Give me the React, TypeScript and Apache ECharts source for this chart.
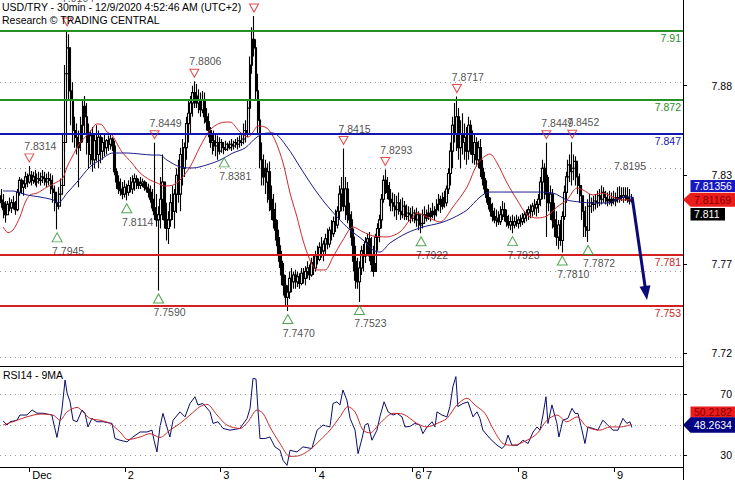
import React, { useEffect, useRef } from "react";
import * as echarts from "echarts";

const FONT = "'Liberation Sans', Arial, Helvetica, sans-serif";

// ---- 30-min bars (index 0 = Nov 30 16:30) : highs / lows / closes ----
const highs = [
  // Nov 30
  7.8168,7.8180,7.8150,7.8110,7.8110,7.8130,7.8120,7.8140,7.8110,7.8180,7.8250,7.8240,7.8230,7.8280,7.8270,
  // Dec 1
  7.8314,7.8285,7.8280,7.8290,7.8270,7.8280,7.8275,7.8290,7.8280,7.8270,7.8280,7.8270,7.8260,7.8200,7.8160,7.8190,
  7.8240,7.8500,7.8900,7.9104,7.9080,7.8820,7.8800,7.8600,7.8560,7.8520,7.8600,7.8700,7.8720,7.8680,7.8560,7.8520,
  7.8540,7.8500,7.8550,7.8520,7.8500,7.8480,7.8500,7.8470,7.8490,7.8500,7.8480,7.8460,7.8300,7.8260,7.8240,7.8220,
  // Dec 2
  7.8230,7.8210,7.8230,7.8250,7.8260,7.8270,7.8260,7.8240,7.8250,7.8240,7.8230,7.8220,7.8210,7.8200,7.8180,7.8449,
  7.8150,7.8080,7.8250,7.8380,7.8180,7.8100,7.8050,7.8150,7.8200,7.8180,7.8300,7.8350,7.8420,7.8470,7.8450,7.8600,
  7.8700,7.8720,7.8780,7.8806,7.8790,7.8760,7.8740,7.8750,7.8740,7.8650,7.8620,7.8540,7.8500,7.8520,7.8500,7.8490,
  // Dec 3
  7.8480,7.8470,7.8450,7.8460,7.8450,7.8460,7.8470,7.8460,7.8470,7.8480,7.8490,7.8500,7.8560,7.8580,7.8700,7.8950,
  7.9120,7.9185,7.9050,7.8850,7.8700,7.8450,7.8380,7.8350,7.8330,7.8340,7.8200,7.8150,7.8100,7.8000,7.7900,7.7820,
  7.7750,7.7680,7.7620,7.7700,7.7720,7.7700,7.7710,7.7700,7.7690,7.7720,7.7720,7.7730,7.7760,7.7740,7.7780,7.7800,
  // Dec 4
  7.7820,7.7850,7.7870,7.7900,7.7880,7.7920,7.7950,7.7960,7.8000,7.8020,7.8060,7.8080,7.8200,7.8250,7.8415,7.8250,
  7.8220,7.8100,7.8050,7.7950,7.7850,7.7780,7.7760,7.7850,7.7860,7.7900,7.7920,7.7930,7.7900,7.7850,7.7920,7.7980,
  7.8030,7.8150,7.8260,7.8293,7.8250,7.8220,7.8180,7.8160,7.8150,7.8140,7.8160,7.8120,7.8130,7.8110,7.8090,7.8080,
  // Dec 6
  7.8070,7.8080,7.8060,7.8070,7.8050,7.8030,
  // Dec 7
  7.8060,7.8080,7.8060,7.8090,7.8070,7.8100,7.8080,7.8120,7.8150,7.8140,7.8160,7.8170,7.8200,7.8300,7.8450,7.8600,
  7.8680,7.8717,7.8650,7.8580,7.8620,7.8560,7.8540,7.8600,7.8580,7.8520,7.8500,7.8480,7.8460,7.8470,7.8350,7.8280,
  7.8230,7.8180,7.8130,7.8100,7.8070,7.8060,7.8050,7.8080,7.8110,7.8100,7.8060,7.8030,7.8020,7.8030,7.8020,7.8030,
  // Dec 8
  7.8020,7.8030,7.8040,7.8050,7.8060,7.8080,7.8090,7.8100,7.8120,7.8110,7.8150,7.8250,7.8350,7.8330,7.8449,7.8250,
  7.8200,7.8180,7.8100,7.8050,7.8000,7.8000,7.8050,7.8200,7.8280,7.8350,7.8380,7.8452,7.8380,7.8370,7.8320,7.8270,
  7.8200,7.8120,7.8080,7.8120,7.8150,7.8130,7.8140,7.8150,7.8170,7.8180,7.8200,7.8190,7.8170,7.8160,7.8170,7.8160,
  // Dec 9
  7.8170,7.8160,7.8190,7.8195,7.8190,7.8190,7.8190,7.8190,7.8180,7.8150,
];

const lows = [
  // Nov 30
  7.8093,7.8070,7.8010,7.7985,7.8030,7.8050,7.8040,7.8060,7.8030,7.8050,7.8140,7.8150,7.8140,7.8180,7.8190,
  // Dec 1
  7.8210,7.8200,7.8210,7.8200,7.8190,7.8210,7.8200,7.8215,7.8200,7.8190,7.8200,7.8150,7.8100,7.8050,7.7945,7.8060,
  7.8100,7.8150,7.8400,7.8800,7.8700,7.8550,7.8450,7.8420,7.8380,7.8190,7.8400,7.8450,7.8500,7.8380,7.8300,7.8320,
  7.8280,7.8300,7.8340,7.8300,7.8330,7.8350,7.8370,7.8380,7.8400,7.8410,7.8400,7.8260,7.8180,7.8150,7.8140,7.8120,
  // Dec 2
  7.8130,7.8114,7.8140,7.8160,7.8150,7.8170,7.8180,7.8180,7.8180,7.8190,7.8170,7.8160,7.8130,7.8100,7.8050,7.8000,
  7.7960,7.7590,7.7950,7.8000,7.7950,7.7880,7.7860,7.7960,7.8000,7.7950,7.8040,7.8100,7.8050,7.8200,7.8250,7.8350,
  7.8450,7.8500,7.8600,7.8650,7.8650,7.8620,7.8600,7.8620,7.8560,7.8520,7.8480,7.8420,7.8380,7.8400,7.8370,7.8350,
  // Dec 3
  7.8380,7.8390,7.8381,7.8400,7.8400,7.8410,7.8400,7.8410,7.8420,7.8410,7.8420,7.8430,7.8440,7.8450,7.8480,7.8600,
  7.8850,7.8950,7.8700,7.8500,7.8300,7.8200,7.8200,7.8150,7.8100,7.8050,7.8000,7.7950,7.7880,7.7800,7.7720,7.7620,
  7.7560,7.7500,7.7470,7.7540,7.7580,7.7600,7.7600,7.7610,7.7600,7.7620,7.7630,7.7620,7.7660,7.7650,7.7670,7.7680,
  // Dec 4
  7.7700,7.7740,7.7760,7.7780,7.7760,7.7800,7.7830,7.7840,7.7880,7.7900,7.7930,7.7950,7.8000,7.8050,7.8050,7.8000,
  7.7980,7.7950,7.7850,7.7700,7.7600,7.7600,7.7523,7.7680,7.7700,7.7750,7.7800,7.7760,7.7700,7.7670,7.7750,7.7820,
  7.7870,7.7950,7.8100,7.8150,7.8120,7.8080,7.8050,7.8050,7.8020,7.8000,7.8030,7.8000,7.8010,7.8000,7.8000,7.7990,
  // Dec 6
  7.7980,7.7990,7.7980,7.7960,7.7940,7.7922,
  // Dec 7
  7.7950,7.7980,7.7990,7.8000,7.7990,7.8010,7.8000,7.8020,7.8050,7.8040,7.8060,7.8070,7.8080,7.8150,7.8200,7.8300,
  7.8450,7.8400,7.8350,7.8300,7.8380,7.8350,7.8320,7.8350,7.8380,7.8330,7.8320,7.8310,7.8300,7.8250,7.8200,7.8150,
  7.8100,7.8060,7.8020,7.7990,7.7980,7.7960,7.7970,7.7970,7.8000,7.7990,7.7960,7.7950,7.7940,7.7923,7.7950,7.7960,
  // Dec 8
  7.7950,7.7960,7.7970,7.7980,7.7990,7.8000,7.8010,7.8020,7.8030,7.8020,7.8040,7.8080,7.8120,7.8120,7.7900,7.8050,
  7.8000,7.7950,7.7900,7.7850,7.7830,7.7850,7.7810,7.8000,7.8100,7.8200,7.8220,7.8200,7.8230,7.8200,7.8150,7.8100,
  7.8000,7.7900,7.7900,7.7872,7.8050,7.8040,7.8050,7.8060,7.8070,7.8080,7.8090,7.8100,7.8090,7.8080,7.8090,7.8080,
  // Dec 9
  7.8090,7.8080,7.8100,7.8100,7.8110,7.8100,7.8110,7.8100,7.8090,7.8100,
];

const closes = [
  // Nov 30
  7.8116,7.810,7.806,7.803,7.809,7.807,7.810,7.808,7.806,7.816,7.823,7.819,7.821,7.825,7.822,
  // Dec 1
  7.826,7.823,7.825,7.822,7.824,7.823,7.825,7.824,7.822,7.824,7.823,7.818,7.816,7.810,7.808,7.815,
  7.820,7.845,7.885,7.900,7.875,7.870,7.852,7.848,7.842,7.845,7.855,7.866,7.860,7.845,7.838,7.849,
  7.835,7.846,7.838,7.848,7.840,7.845,7.842,7.846,7.844,7.847,7.843,7.828,7.822,7.818,7.817,7.815,
  // Dec 2
  7.819,7.816,7.820,7.818,7.822,7.824,7.822,7.820,7.821,7.822,7.819,7.818,7.816,7.812,7.807,7.803,
  7.800,7.803,7.812,7.822,7.800,7.795,7.800,7.810,7.805,7.815,7.826,7.815,7.838,7.830,7.842,7.856,
  7.862,7.868,7.874,7.872,7.868,7.870,7.864,7.870,7.860,7.857,7.852,7.845,7.846,7.843,7.845,7.840,
  // Dec 3
  7.845,7.842,7.841,7.844,7.842,7.844,7.843,7.845,7.844,7.846,7.845,7.847,7.852,7.850,7.865,7.890,
  7.905,7.900,7.875,7.858,7.835,7.825,7.830,7.822,7.828,7.812,7.806,7.800,7.794,7.785,7.776,7.768,
  7.762,7.755,7.758,7.766,7.764,7.768,7.764,7.767,7.763,7.769,7.766,7.770,7.772,7.768,7.775,7.772,
  // Dec 4
  7.779,7.777,7.784,7.782,7.786,7.789,7.786,7.794,7.792,7.799,7.797,7.805,7.815,7.818,7.808,7.818,
  7.803,7.800,7.790,7.776,7.765,7.764,7.772,7.782,7.779,7.787,7.789,7.779,7.774,7.770,7.790,7.795,
  7.800,7.812,7.823,7.820,7.816,7.812,7.810,7.808,7.806,7.810,7.805,7.803,7.808,7.802,7.804,7.803,
  // Dec 6
  7.801,7.804,7.800,7.803,7.797,7.798,
  // Dec 7
  7.803,7.801,7.804,7.802,7.805,7.803,7.806,7.809,7.812,7.808,7.813,7.810,7.818,7.827,7.840,7.855,
  7.850,7.860,7.842,7.850,7.845,7.848,7.840,7.855,7.845,7.838,7.845,7.835,7.842,7.830,7.824,7.818,
  7.813,7.809,7.805,7.802,7.800,7.801,7.799,7.803,7.806,7.802,7.799,7.797,7.799,7.797,7.799,7.798,
  // Dec 8
  7.800,7.799,7.801,7.803,7.804,7.806,7.805,7.808,7.807,7.809,7.812,7.822,7.830,7.826,7.815,7.810,
  7.815,7.800,7.796,7.790,7.797,7.788,7.802,7.816,7.825,7.832,7.828,7.830,7.834,7.825,7.820,7.814,
  7.805,7.796,7.794,7.808,7.810,7.809,7.811,7.810,7.814,7.812,7.816,7.813,7.811,7.812,7.810,7.812,
  // Dec 9
  7.811,7.813,7.812,7.814,7.813,7.814,7.813,7.812,7.811,7.811,
];
const firstOpen = 7.814;

// ---- moving averages: [bar index, price] ----
const fastMA = [
  [1.8,7.7959],[4.3,7.7926],[6.8,7.7941],[10.3,7.8017],[12.8,7.8098],[15.4,7.8145],[18.9,7.8156],[23.9,7.8191],
  [28.9,7.8220],[31.9,7.8244],[34.0,7.8308],[36.5,7.8366],[40.5,7.8447],[45.5,7.8511],[49.0,7.8558],[51.6,7.8552],
  [54.1,7.8511],[56.6,7.8494],[58.1,7.8465],[61.6,7.8395],[66.6,7.8331],[70.7,7.8273],[75.7,7.8232],[79.2,7.8215],
  [83.2,7.8197],[87.3,7.8203],[90.8,7.8232],[95.8,7.8308],[100.8,7.8424],[105.9,7.8523],[110.9,7.8563],[115.9,7.8569],
  [120.9,7.8511],[125.0,7.8482],[127.5,7.8511],[130.0,7.8546],[134.5,7.8534],[138.5,7.8465],[142.6,7.8331],[146.1,7.8156],
  [149.6,7.8017],[152.6,7.7883],[156.1,7.7767],[159.7,7.7709],[163.7,7.7709],[167.7,7.7784],[172.7,7.7883],[177.8,7.7959],
  [182.8,7.7930],[187.8,7.7907],[194.9,7.7901],[201.4,7.7930],[206.4,7.8000],[210.4,7.8040],[215.0,7.8017],[221.5,7.7988],
  [228.0,7.8075],[235.1,7.8191],[240.6,7.8331],[246.6,7.8383],[250.2,7.8331],[255.2,7.8215],[260.3,7.8116],[265.3,7.8029],
  [270.3,7.8011],[275.3,7.8023],[280.3,7.8075],[285.3,7.8116],[290.4,7.8185],[293.4,7.8174],[298.4,7.8145],[303.4,7.8156],
  [308.5,7.8133],[313.5,7.8116],[318.0,7.81169],
];
const slowMA = [
  [1.8,7.8168],[6.8,7.8168],[13.8,7.8145],[20.4,7.8133],[27.0,7.8116],[29.4,7.8098],[34.0,7.8156],[39.0,7.8220],
  [45.5,7.8308],[50.6,7.8348],[57.1,7.8389],[64.1,7.8389],[70.7,7.8383],[77.2,7.8377],[80.7,7.8377],[84.2,7.8348],
  [90.8,7.8308],[97.3,7.8302],[104.3,7.8320],[110.9,7.8348],[117.4,7.8389],[123.5,7.8418],[129.5,7.8482],[134.5,7.8505],
  [137.6,7.8505],[144.6,7.8424],[151.1,7.8308],[157.7,7.8191],[163.7,7.8098],[169.8,7.8017],[176.3,7.7941],[182.8,7.7883],
  [187.8,7.7825],[191.3,7.7813],[196.4,7.7866],[204.9,7.7924],[213.0,7.7959],[221.5,7.7982],[228.0,7.8011],[235.1,7.8058],
  [241.6,7.8133],[246.6,7.8162],[255.2,7.8162],[268.3,7.8162],[278.3,7.8156],[285.3,7.8116],[291.9,7.8104],[298.4,7.8098],
  [305.5,7.8098],[312.0,7.8127],[318.0,7.81356],
];

// ---- RSI14 and its 9MA: [bar index, value] ----
const rsi = [
  [1.8,52.6],[3.8,49.8],[5.3,52],[8.8,53],[10.3,56.4],[13.8,56.4],[16.4,59.7],[18.9,57.6],[21.9,57.6],[26.4,56.4],
  [26.9,53],[28.9,41.7],[31.4,59.7],[33.0,79.4],[34.0,70.8],[35.5,65.1],[37.0,53],[39.0,52],[41.5,59.7],[43.0,57.6],
  [44.5,48.6],[46.5,54.2],[49.0,52],[52.1,52],[56.6,50.9],[58.1,41],[60.6,39.9],[64.1,38.8],[67.1,42],[70.7,45.3],
  [74.2,45.3],[76.7,46.5],[77.7,39.9],[79.2,32.2],[80.7,48.6],[82.2,57.5],[84.2,48.6],[85.7,42],[87.3,53],[90.8,58.5],
  [93.3,55.2],[95.8,64],[98.3,68.4],[99.8,63],[102.3,64],[105.9,58.5],[107.4,50.9],[109.9,52],[112.4,47.6],[115.9,46.5],
  [120.9,47.6],[124.5,54.2],[126.0,60.8],[127.5,80.5],[129.0,80],[130.0,59.7],[131.0,41],[133.5,41],[136.0,42],[138.5,35.5],
  [141.1,33.3],[142.6,26.7],[144.6,23.4],[146.1,33.3],[149.6,32.2],[152.6,35.5],[157.1,34.4],[159.7,46.5],[162.7,49.8],[166.2,48.6],
  [167.7,64],[169.7,65.1],[171.2,63],[172.7,72.8],[174.7,66.2],[176.3,54.2],[178.8,46.5],[180.3,31.1],[182.3,41],[183.8,49.8],
  [185.3,50.9],[187.3,39.9],[189.8,46.5],[191.3,55.2],[193.4,65.1],[195.4,58.5],[197.9,56.4],[199.9,57.5],[202.4,55.2],[203.9,48.6],
  [206.4,49],[208.9,50.9],[211.4,49.8],[212.9,44.2],[215.0,48.6],[217.5,52],[219.0,48.6],[220.0,58.5],[222.5,56.4],[225.0,55.2],
  [226.5,61.9],[228.0,75],[229.5,81.6],[230.5,61.9],[233.1,64],[235.6,65],[238.1,55.2],[240.1,58.5],[241.6,54.2],[243.1,46.5],
  [246.6,41],[250.2,36.6],[252.7,34.4],[254.2,36.6],[255.7,43.2],[257.7,36.6],[260.7,36.6],[263.2,39.9],[265.8,37.7],[268.3,45.3],
  [270.3,48.6],[271.8,46.5],[273.3,56.4],[274.8,68.4],[275.8,50.9],[277.8,63],[280.3,50.9],[281.3,42],[283.3,53],[285.8,54.2],
  [287.9,60.8],[289.4,57.5],[290.9,57.5],[292.9,46.5],[294.4,37.7],[295.9,48.6],[298.4,47.6],[300.9,46.5],[303.4,53],[305.9,49.8],
  [308.5,46.5],[311.0,46.5],[313.5,54.2],[315.5,50.9],[317.0,52],[318.0,48.2634],
];
const rsiMA = [
  [1.8,49.8],[6.8,52],[13.8,55.2],[20.4,57],[26.9,56.4],[30.4,53],[34.0,58.5],[39.0,61.4],[42.0,58.5],[45.5,54.2],
  [50.6,53],[55.6,50.9],[60.6,45.3],[64.6,40.3],[70.7,42],[75.7,44.2],[80.7,41.7],[85.7,46.5],[90.8,50.9],[95.8,56.4],
  [100.8,61.9],[104.3,63.4],[109.4,56.4],[114.4,49.8],[120.9,47.6],[125.0,52],[129.5,59.7],[132.5,57.5],[136.0,48.6],[141.1,37.7],
  [146.1,29.3],[151.1,29.9],[156.1,33.7],[161.2,39.9],[166.2,46.5],[171.2,55.2],[175.2,61.9],[178.8,58.5],[182.8,46.5],[186.3,44.7],
  [191.3,50.9],[197.9,57.5],[202.9,57],[209.9,50.9],[215.0,48.6],[220.0,50.9],[225.0,54.2],[230.0,63],[235.1,67.4],[239.1,63],
  [244.1,57.5],[248.1,47.6],[253.2,37.7],[258.2,36.6],[265.3,39.9],[270.3,44.2],[275.3,53],[280.3,56.4],[285.3,52],[290.4,55.2],
  [295.4,48.6],[301.9,46.5],[307.0,48.6],[312.0,48.6],[318.0,50.2182],
];

// ---- pivots [bar index, price] ----
const peaks = [[15,7.8314],[34,7.9104],[78,7.8449],[98,7.8806],[128,7.9185],[173,7.8415],[194,7.8293],[230,7.8717],[275,7.8449],[288,7.8452]];
const troughs = [[29,7.7945],[64,7.8114],[80,7.7590],[113,7.8381],[145,7.7470],[181,7.7523],[212,7.7922],[258,7.7923],[283,7.7810],[296,7.7872]];
const openPivot = [[312,7.8195]];
const unlabeledPeaks = [128];
const raisedLabelPeaks = [34];

// ---- levels ----
const resistances = [7.91, 7.872];
const pivotLevels = [7.847];
const supports = [7.781, 7.753];
const forecastPath = [[318.1, 7.8133], [325.1, 7.7575]];

// ---- axes ----
const priceTicks = [7.7224, 7.7743, 7.8262, 7.8781];
const rsiTicks = [30, 70];
const rsiGrid = [30, 50, 70];
const dayTicks = [15, 63, 111, 159, 207.5, 213, 261, 309];
const dayLabels = ["Dec", "2", "3", "4", "6", "7", "8", "9"];
const X_MIN = 0.27, X_MAX = 343.7;
const P_MIN = 7.71506, P_MAX = 7.92785;
const R_MIN = 22.33, R_MAX = 88.56;

const GREEN = "#259025", BLUE = "#1515b0", RED = "#d42020";

function buildOption(): any {
  const candles = closes.map((c, i) => [i, i === 0 ? firstOpen : closes[i - 1], c, lows[i], highs[i]]);
  const lastClose = closes[closes.length - 1];
  const lastFast = fastMA[fastMA.length - 1][1];
  const lastSlow = slowMA[slowMA.length - 1][1];
  const lastRsi = rsi[rsi.length - 1][1];
  const lastRsiMA = rsiMA[rsiMA.length - 1][1];

  const levelItem = (v: number, color: string) => ({
    yAxis: v,
    lineStyle: { color, width: 2, type: "solid" },
    label: { show: true, position: "insideEndBottom", formatter: String(v), color, fontSize: 10.5, fontFamily: FONT, distance: 2 },
  });

  const txt = (x: number, y: number, text: string, fill: string, size = 10.5) => ({
    type: "text", x, y, z: 100,
    style: { text, fill, fontSize: size, fontFamily: FONT, verticalAlign: "middle", align: "left" },
  });

  return {
    animation: false,
    backgroundColor: "#fff",
    grid: [
      { left: 0, top: 0, width: 683, height: 366, show: false },
      { left: 0, top: 366, width: 683, height: 101, show: false },
    ],
    xAxis: [
      { type: "value", gridIndex: 0, min: X_MIN, max: X_MAX, show: false },
      {
        type: "value", gridIndex: 1, min: X_MIN, max: X_MAX,
        axisLine: { show: true, lineStyle: { color: "#000", width: 1 } },
        axisTick: { show: true, customValues: dayTicks, length: 5, lineStyle: { color: "#000" } },
        axisLabel: {
          show: true, customValues: dayTicks,
          formatter: (v: number) => { const k = dayTicks.indexOf(v); return k >= 0 ? dayLabels[k] : ""; },
          align: "left", padding: [0, 0, 0, 3], margin: 2, color: "#000", fontSize: 11, fontFamily: FONT,
        },
        splitLine: { show: false },
      },
    ],
    yAxis: [
      {
        type: "value", gridIndex: 0, position: "right", min: P_MIN, max: P_MAX,
        axisLine: { show: false },
        axisTick: { show: true, customValues: priceTicks, length: 4, lineStyle: { color: "#000" } },
        axisLabel: { customValues: priceTicks, formatter: (v: number) => v.toFixed(2), align: "right", margin: 49, color: "#000", fontSize: 10.5, fontFamily: FONT },
        splitLine: { show: false },
      },
      {
        type: "value", gridIndex: 1, position: "right", min: R_MIN, max: R_MAX,
        axisLine: { show: false },
        axisTick: { show: true, customValues: rsiTicks, length: 4, lineStyle: { color: "#000" } },
        axisLabel: { customValues: rsiTicks, formatter: (v: number) => String(v), align: "right", margin: 49, color: "#000", fontSize: 10.5, fontFamily: FONT },
        splitLine: { show: false },
      },
    ],
    series: [
      {
        type: "candlestick", xAxisIndex: 0, yAxisIndex: 0, data: candles, barWidth: 2.4,
        itemStyle: { color: "#fff", color0: "#000", borderColor: "#000", borderColor0: "#000", borderWidth: 1.1 },
        markLine: {
          silent: true, symbol: "none", label: { show: false }, z: 1,
          lineStyle: { type: [1, 4], color: "#9a9a9a", width: 1 },
          data: priceTicks.map((v) => ({ yAxis: v })),
        },
      },
      {
        type: "line", xAxisIndex: 0, yAxisIndex: 0, data: fastMA, symbol: "none", smooth: 0.3,
        lineStyle: { color: "#cc2a2a", width: 1 }, z: 3,
        markLine: {
          silent: true, symbol: "none",
          data: [
            ...resistances.map((v) => levelItem(v, GREEN)),
            ...pivotLevels.map((v) => levelItem(v, BLUE)),
            ...supports.map((v) => levelItem(v, RED)),
          ],
        },
      },
      {
        type: "line", xAxisIndex: 0, yAxisIndex: 0, data: slowMA, symbol: "none", smooth: 0.3,
        lineStyle: { color: "#1c1c8c", width: 1 }, z: 3,
        markLine: {
          silent: true, symbol: ["none", "triangle"], symbolSize: [11, 14],
          lineStyle: { color: "#0b0b78", width: 3, type: "solid" }, label: { show: false },
          data: [[{ coord: forecastPath[0] }, { coord: forecastPath[1] }]],
        },
      },
      {
        type: "scatter", xAxisIndex: 0, yAxisIndex: 0, z: 5,
        data: peaks.map(([i, v]) => ({
          value: [i, v],
          label: unlabeledPeaks.includes(i) ? { show: false } : raisedLabelPeaks.includes(i) ? { offset: [11, -12] } : undefined,
        })),
        symbol: "path://M0,0L10,0L5,9Z", symbolSize: [9, 8], symbolOffset: [0, -8],
        itemStyle: { color: "rgba(0,0,0,0)", borderColor: RED, borderWidth: 1 },
        label: { show: true, position: "top", distance: 2, offset: [11, 0], formatter: (p: any) => p.value[1].toFixed(4), color: "#222", fontSize: 10.5, fontFamily: FONT },
      },
      {
        type: "scatter", xAxisIndex: 0, yAxisIndex: 0, z: 5, data: troughs,
        symbol: "triangle", symbolSize: [10, 9], symbolOffset: [0, 8],
        itemStyle: { color: "rgba(0,0,0,0)", borderColor: GREEN, borderWidth: 1 },
        label: { show: true, position: "bottom", distance: 3, offset: [11, 0], formatter: (p: any) => p.value[1].toFixed(4), color: "#222", fontSize: 10.5, fontFamily: FONT },
      },
      {
        type: "scatter", xAxisIndex: 0, yAxisIndex: 0, z: 5, data: openPivot,
        symbol: "circle", symbolSize: 1, itemStyle: { color: "rgba(0,0,0,0)" },
        label: { show: true, position: "top", distance: 14, offset: [10, 0], formatter: (p: any) => p.value[1].toFixed(4), color: "#222", fontSize: 10.5, fontFamily: FONT },
      },
      {
        type: "line", xAxisIndex: 1, yAxisIndex: 1, data: rsi, symbol: "none",
        lineStyle: { color: "#0c0c6e", width: 1 }, z: 3,
        markLine: {
          silent: true, symbol: "none", label: { show: false },
          lineStyle: { type: [1, 4], color: "#9a9a9a", width: 1 },
          data: rsiGrid.map((v) => ({ yAxis: v })),
        },
      },
      {
        type: "line", xAxisIndex: 1, yAxisIndex: 1, data: rsiMA, symbol: "none", smooth: 0.3,
        lineStyle: { color: "#c42a2a", width: 1 }, z: 4,
      },
    ],
    graphic: {
      elements: [
        { type: "line", z: 50, shape: { x1: 683.5, y1: 0, x2: 683.5, y2: 480 }, style: { stroke: "#000", lineWidth: 1 } },
        { type: "line", z: 50, shape: { x1: 0, y1: 366.5, x2: 683, y2: 366.5 }, style: { stroke: "#000", lineWidth: 1 } },
        txt(2, 7, "USD/TRY - 30min - 12/9/2020 4:52:46 AM (UTC+2)", "#000"),
        txt(2, 20, "Research \u00A9 TRADING CENTRAL", "#000"),
        txt(3, 375, "RSI14 - 9MA", "#000"),
        // price tags
        { type: "rect", z: 100, shape: { x: 690.5, y: 180, width: 44.5, height: 12 }, style: { fill: "#1818c0" } },
        txt(694, 186, lastSlow.toFixed(5), "#fff"),
        { type: "polygon", z: 100, shape: { points: [[683, 199.7], [690.5, 192.7], [735, 192.7], [735, 206.7], [690.5, 206.7]] }, style: { fill: "#ea1c1c" } },
        txt(694, 199.8, lastFast.toFixed(5), "#8a0000"),
        { type: "rect", z: 100, shape: { x: 690.5, y: 208, width: 34.5, height: 12.5 }, style: { fill: "#000" } },
        txt(694, 214.2, lastClose.toFixed(3), "#fff"),
        // RSI tags
        { type: "rect", z: 100, shape: { x: 690.5, y: 406.5, width: 44.5, height: 11 }, style: { fill: "#ea1c1c" } },
        txt(694, 412, lastRsiMA.toFixed(4), "#8a0000"),
        { type: "polygon", z: 100, shape: { points: [[683, 425], [690.5, 417.3], [735, 417.3], [735, 432.7], [690.5, 432.7]] }, style: { fill: "#000080" } },
        txt(694, 425, lastRsi.toFixed(4), "#fff"),
      ],
    },
  };
}

export default function App() {
  const ref = useRef<HTMLDivElement>(null);
  useEffect(() => {
    if (!ref.current) return;
    const chart = echarts.init(ref.current, undefined, { renderer: "svg" });
    chart.setOption(buildOption());
    return () => chart.dispose();
  }, []);
  return (
    <div
      ref={ref}
      style={{ position: "absolute", left: 0, top: 0, width: 735, height: 480, background: "#fff" }}
    />
  );
}
